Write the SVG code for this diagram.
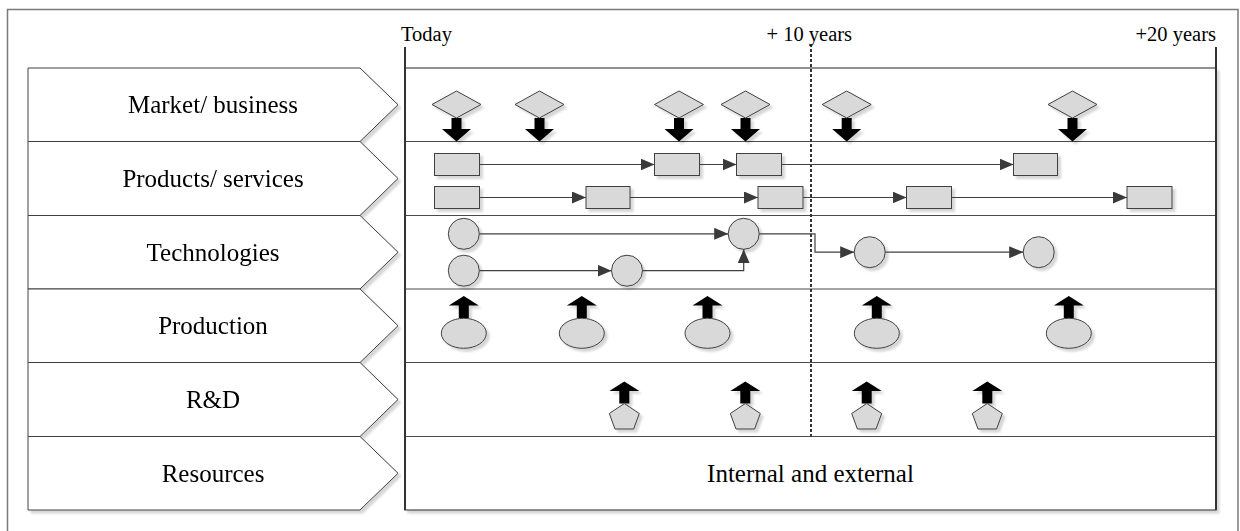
<svg xmlns="http://www.w3.org/2000/svg" width="1240" height="531" viewBox="0 0 1240 531">
  <defs>
    <filter id="shadow" x="-20%" y="-20%" width="140%" height="140%">
      <feDropShadow dx="3" dy="3" stdDeviation="0.8" flood-color="#000" flood-opacity="0.16"/>
    </filter>
    <marker id="tri" markerUnits="userSpaceOnUse" markerWidth="14" markerHeight="12" refX="14" refY="6" orient="auto">
      <path d="M0,0 L14,6 L0,12 z" fill="#3a3a3a"/>
    </marker>
    <!-- block arrow pointing down, origin at the top of the shaft -->
    <path id="downArrow" d="M-5,0 H5 V11 H14.5 L0,23.5 L-14.5,11 H-5 z"/>
    <!-- block arrow pointing up, origin at the tip -->
    <path id="upArrow" d="M0,0 L15,9.5 H5 V22 H-5 V9.5 H-15 z"/>
    <polygon id="diamond" points="0,-13.5 24.5,0 0,13.5 -24.5,0"/>
    <polygon id="pentagon" points="0,0 15,10 9.3,25.5 -9.3,25.5 -15,10"/>
  </defs>
  <style>
    .frame { fill: none; stroke: #7a7a7a; stroke-width: 1.5; }
    .chev { fill: #fff; stroke: #404040; stroke-width: 1; }
    .lbl { font-family: "Liberation Serif", "Times New Roman", serif; font-size: 25px; fill: #000; text-anchor: middle; }
    .hdr { font-family: "Liberation Serif", "Times New Roman", serif; font-size: 20.5px; fill: #000; }
    .grid { stroke: #4a4a4a; stroke-width: 1.2; fill: none; }
    .axis { stroke: #333; stroke-width: 2; fill: none; }
    .dash { stroke: #333; stroke-width: 2; stroke-dasharray: 3 2; fill: none; }
    .shape { fill: #d9d9d9; stroke: #404040; stroke-width: 1; }
    .blk { fill: #000; }
    .conn { fill: none; stroke: #404040; stroke-width: 1.2; marker-end: url(#tri); }
  </style>

  <rect class="frame" x="7.5" y="9.5" width="1230.5" height="540"/>

  <!-- row labels -->
  <g id="labels" filter="url(#shadow)">
    <g id="lbl-market">
      <polygon class="chev" points="28,68 360,68 398,104.75 360,141.5 28,141.5"/>
      <text class="lbl" x="213" y="113.3">Market/ business</text>
    </g>
    <g id="lbl-products">
      <polygon class="chev" points="28,141.5 360,141.5 398,178.5 360,215.5 28,215.5"/>
      <text class="lbl" x="213" y="187">Products/ services</text>
    </g>
    <g id="lbl-tech">
      <polygon class="chev" points="28,215.5 360,215.5 398,252.25 360,289 28,289"/>
      <text class="lbl" x="213" y="260.75">Technologies</text>
    </g>
    <g id="lbl-production">
      <polygon class="chev" points="28,289 360,289 398,325.75 360,362.5 28,362.5"/>
      <text class="lbl" x="213" y="334.25">Production</text>
    </g>
    <g id="lbl-rd">
      <polygon class="chev" points="28,362.5 360,362.5 398,399.5 360,436.5 28,436.5"/>
      <text class="lbl" x="213" y="408">R&amp;D</text>
    </g>
    <g id="lbl-resources">
      <polygon class="chev" points="28,436.5 360,436.5 398,473.25 360,510 28,510"/>
      <text class="lbl" x="213" y="481.75">Resources</text>
    </g>
  </g>

  <!-- timeline panel -->
  <g id="panel">
    <rect x="405" y="68" width="811" height="442" fill="#fff" stroke="#4a4a4a" stroke-width="1.2" filter="url(#shadow)"/>
    <path class="grid" d="M405,141.5 H1216 M405,215.5 H1216 M405,289 H1216 M405,362.5 H1216 M405,436.5 H1216"/>
    <path class="axis" d="M405,47 V510 M1216,47 V510"/>
    <path class="dash" d="M811,44 V436.5"/>
    <text class="hdr" x="401" y="41">Today</text>
    <text class="hdr" x="766.5" y="41">+ 10 years</text>
    <text class="hdr" x="1216" y="41" text-anchor="end">+20 years</text>
    <text class="lbl" x="810.5" y="481.75">Internal and external</text>
  </g>

  <!-- market / business drivers -->
  <g id="market" filter="url(#shadow)">
    <g id="m1" transform="translate(456.5,0)"><use href="#downArrow" y="118" class="blk"/><use href="#diamond" y="104.5" class="shape"/></g>
    <g id="m2" transform="translate(539.5,0)"><use href="#downArrow" y="118" class="blk"/><use href="#diamond" y="104.5" class="shape"/></g>
    <g id="m3" transform="translate(679,0)"><use href="#downArrow" y="118" class="blk"/><use href="#diamond" y="104.5" class="shape"/></g>
    <g id="m4" transform="translate(745.5,0)"><use href="#downArrow" y="118" class="blk"/><use href="#diamond" y="104.5" class="shape"/></g>
    <g id="m5" transform="translate(846.7,0)"><use href="#downArrow" y="118" class="blk"/><use href="#diamond" y="104.5" class="shape"/></g>
    <g id="m6" transform="translate(1072.5,0)"><use href="#downArrow" y="118" class="blk"/><use href="#diamond" y="104.5" class="shape"/></g>
  </g>

  <!-- products / services -->
  <g id="products" filter="url(#shadow)">
    <rect id="pA" class="shape" x="434.5" y="153.5" width="45" height="22"/>
    <rect id="pB" class="shape" x="654.5" y="153.5" width="45" height="22"/>
    <rect id="pC" class="shape" x="736.5" y="153.5" width="45" height="22"/>
    <rect id="pD" class="shape" x="1013.5" y="153.5" width="44" height="22"/>
    <rect id="pE" class="shape" x="434.5" y="186.5" width="45" height="22"/>
    <rect id="pF" class="shape" x="586" y="186.5" width="44" height="22"/>
    <rect id="pG" class="shape" x="758" y="186.5" width="45" height="22"/>
    <rect id="pH" class="shape" x="906.5" y="186.5" width="45" height="22"/>
    <rect id="pI" class="shape" x="1127" y="186.5" width="45" height="22"/>
  </g>

  <!-- technologies -->
  <g id="technologies" filter="url(#shadow)">
    <circle id="t1" class="shape" cx="463.8" cy="233.8" r="15.5"/>
    <circle id="t2" class="shape" cx="463.8" cy="270.7" r="15.5"/>
    <circle id="t3" class="shape" cx="627" cy="270.7" r="15.5"/>
    <circle id="t4" class="shape" cx="743.7" cy="233.8" r="15.5"/>
    <circle id="t5" class="shape" cx="869.7" cy="252.2" r="15.5"/>
    <circle id="t6" class="shape" cx="1038.7" cy="252.2" r="15.5"/>
  </g>

  <!-- production -->
  <g id="production" filter="url(#shadow)">
    <g id="pr1" transform="translate(463.8,0)"><use href="#upArrow" y="296" class="blk"/><ellipse class="shape" cx="0" cy="333.3" rx="22.5" ry="15"/></g>
    <g id="pr2" transform="translate(581.8,0)"><use href="#upArrow" y="296" class="blk"/><ellipse class="shape" cx="0" cy="333.3" rx="22.5" ry="15"/></g>
    <g id="pr3" transform="translate(707.5,0)"><use href="#upArrow" y="296" class="blk"/><ellipse class="shape" cx="0" cy="333.3" rx="22.5" ry="15"/></g>
    <g id="pr4" transform="translate(876.8,0)"><use href="#upArrow" y="296" class="blk"/><ellipse class="shape" cx="0" cy="333.3" rx="22.5" ry="15"/></g>
    <g id="pr5" transform="translate(1068.8,0)"><use href="#upArrow" y="296" class="blk"/><ellipse class="shape" cx="0" cy="333.3" rx="22.5" ry="15"/></g>
  </g>

  <!-- R&D -->
  <g id="rnd" filter="url(#shadow)">
    <g id="rd1" transform="translate(624.3,0)"><use href="#upArrow" y="381.5" class="blk"/><use href="#pentagon" y="403.5" class="shape"/></g>
    <g id="rd2" transform="translate(745.3,0)"><use href="#upArrow" y="381.5" class="blk"/><use href="#pentagon" y="403.5" class="shape"/></g>
    <g id="rd3" transform="translate(866.7,0)"><use href="#upArrow" y="381.5" class="blk"/><use href="#pentagon" y="403.5" class="shape"/></g>
    <g id="rd4" transform="translate(987.3,0)"><use href="#upArrow" y="381.5" class="blk"/><use href="#pentagon" y="403.5" class="shape"/></g>
  </g>

  <!-- connectors -->
  <g id="connectors">
    <path class="conn" d="M479.5,164.5 H654.5"/>
    <path class="conn" d="M699.5,164.5 H736.5"/>
    <path class="conn" d="M781.5,164.5 H1013.5"/>
    <path class="conn" d="M479.5,197.5 H586"/>
    <path class="conn" d="M630,197.5 H758"/>
    <path class="conn" d="M803,197.5 H906.5"/>
    <path class="conn" d="M951.5,197.5 H1127"/>
    <path class="conn" d="M479.3,233.8 H728.2"/>
    <path class="conn" d="M479.3,270.7 H611.5"/>
    <path class="conn" d="M642.5,270.7 H743.7 V249.3"/>
    <path class="conn" d="M759.2,233.8 H815 V252.2 H854.2"/>
    <path class="conn" d="M885.2,252.2 H1023.2"/>
  </g>
</svg>
